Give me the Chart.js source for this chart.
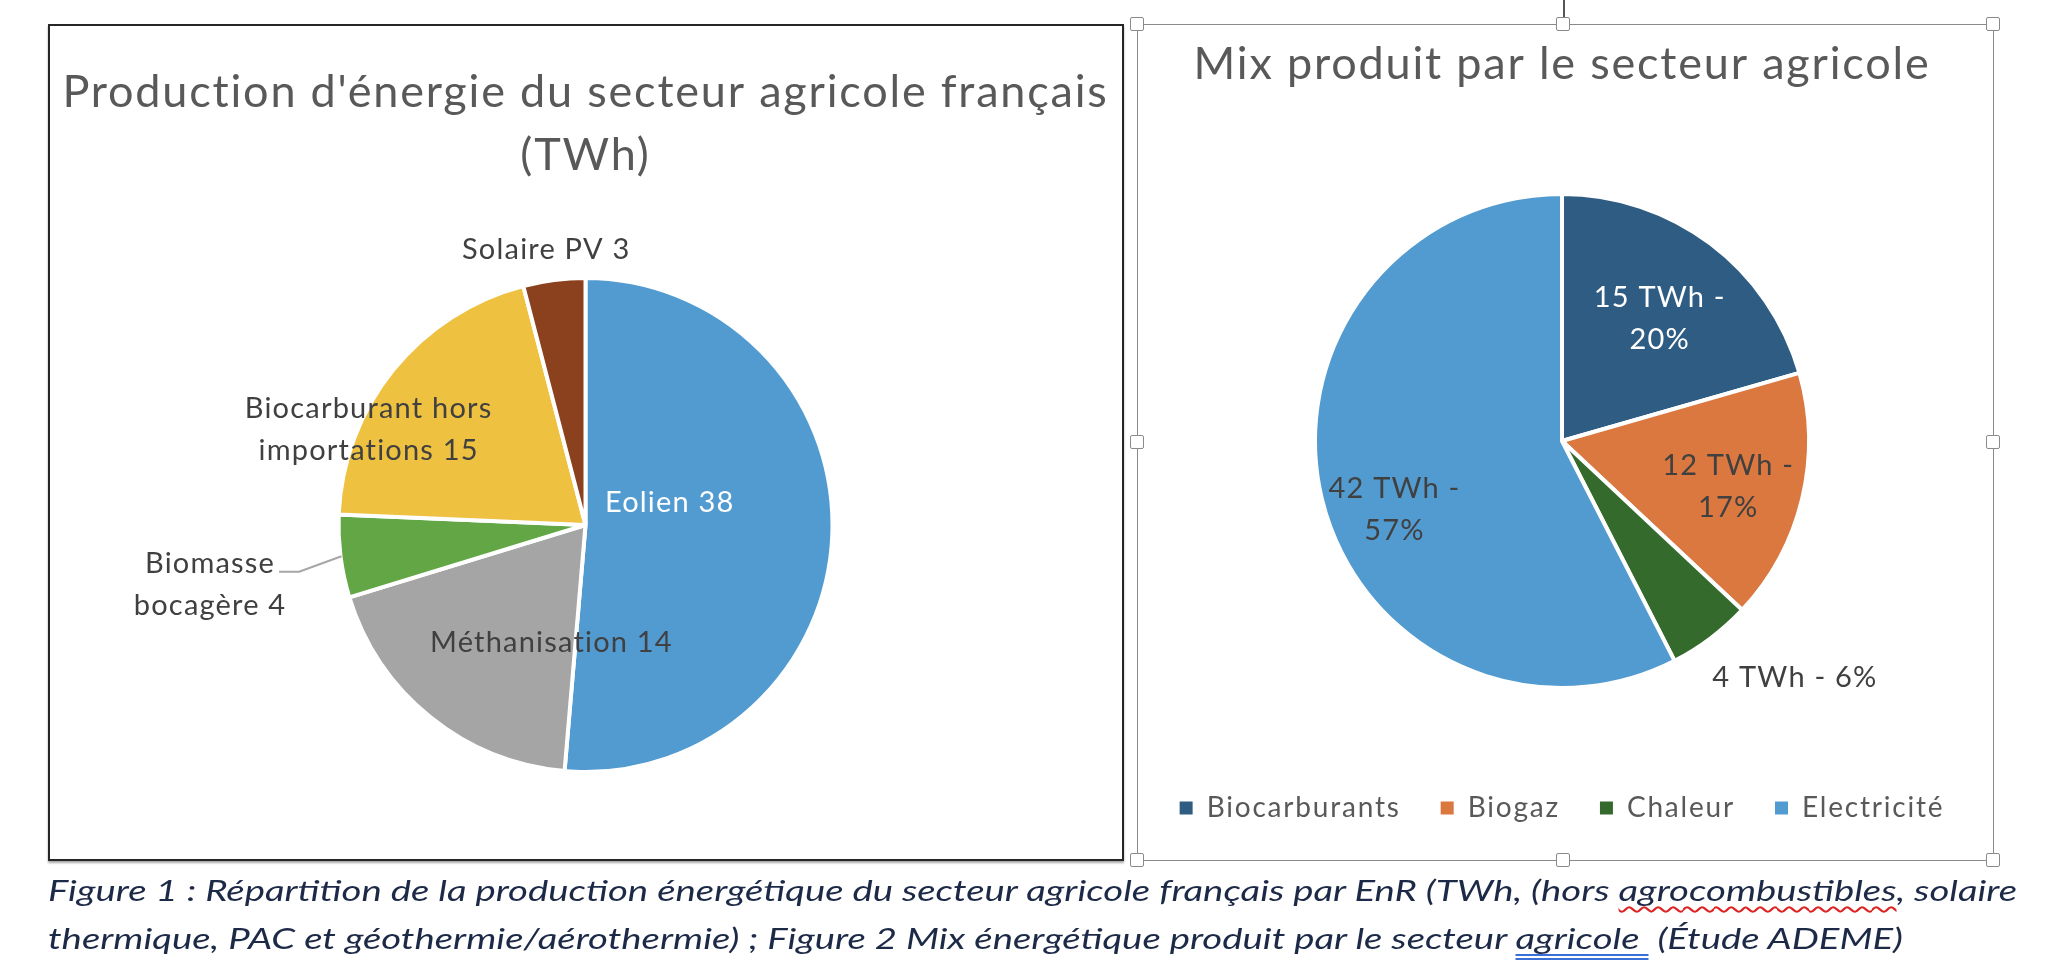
<!DOCTYPE html>
<html>
<head>
<meta charset="utf-8">
<script src="https://cdn.jsdelivr.net/npm/chart.js"></script>
<style>
  body { margin: 0; background: #fff; width: 2052px; height: 980px; position: relative; overflow: hidden; font-family: Lato, sans-serif; }
  .frame { position: absolute; box-sizing: border-box; }
  #leftFrame { left: 48px; top: 24px; width: 1076px; height: 837px; border: 2px solid #262626; box-shadow: 0 2px 2px rgba(0,0,0,.35); }
  #rightFrame { left: 1137px; top: 24px; width: 857px; height: 837px; border: 1.5px solid #8a8a8a; }
  canvas { position: absolute; }
  #leftChart { left: 50px; top: 26px; }
  #rightChart { left: 1139px; top: 26px; }
  .handle { position: absolute; width: 14px; height: 14px; background: #fff; border: 1.5px solid #8a8a8a; border-radius: 2px; box-sizing: border-box; transform: translate(-50%, -50%); }
  #rotLine { position: absolute; left: 1563px; top: 0; width: 1.5px; height: 24px; background: #555; }
  #caption { position: absolute; left: 48px; top: 866px; font-family: Lato, sans-serif; font-style: italic; font-size: 29px; line-height: 48px; color: #1d2a47; white-space: nowrap; transform-origin: 0 0; }
  .spell { text-decoration: underline wavy #d22; text-decoration-thickness: 1.5px; text-underline-offset: 5px; }
  .gram { text-decoration: underline double #3a6fd8; text-underline-offset: 5px; }
</style>
</head>
<body>
<div class="frame" id="leftFrame"></div>
<div class="frame" id="rightFrame"></div>
<div id="rotLine"></div>
<canvas id="leftChart" width="1071" height="832"></canvas>
<canvas id="rightChart" width="854" height="834"></canvas>
<div id="handles"></div>
<div id="caption"><span id="cap1">Figure 1 : Répartition de la production énergétique du secteur agricole français par EnR (TWh, (hors <span class="spell">agrocombustibles</span>, solaire</span><br>thermique, PAC et géothermie/aérothermie) ; Figure 2 Mix énergétique produit par le secteur <span class="gram">agricole&nbsp;</span> (Étude ADEME)</div>
<script>
// left chart: production by source (TWh)
const leftCategories = ['Eolien', 'Méthanisation', 'Biomasse bocagère', 'Biocarburant hors importations', 'Solaire PV'];
const leftValues = [38, 14, 4, 15, 3];
const leftColors = ['#529BD0', '#A5A5A5', '#63A645', '#EEC140', '#8B411E'];
const leftTitle = ["Production d'énergie du secteur agricole français", '(TWh)'];

// right chart: mix produced
const rightCategories = ['Biocarburants', 'Biogaz', 'Chaleur', 'Electricité'];
const rightValues = [15, 12, 4, 42];
const rightShares = [20, 17, 6, 57];
const rightColors = ['#2E5C82', '#DA7840', '#356A2D', '#529BD0'];
const rightTitle = 'Mix produit par le secteur agricole';

// where each data label sits, relative to pie centre, in units of radius
const leftPlacement = [
  {dx: 0.341, dy: -0.089, color: '#ffffff'},
  {dx: -0.138, dy: 0.476, color: '#404040'},
  {dx: -1.520, dy: 0.242, color: '#404040', wrap: 190, leader: true},
  {dx: -0.878, dy: -0.388, color: '#404040', wrap: 270},
  {dx: -0.159, dy: -1.114, color: '#404040'}
];
const rightPlacement = [
  {dx: 0.396, dy: -0.494, color: '#ffffff', wrap: 160},
  {dx: 0.673, dy: 0.186, color: '#404040', wrap: 160},
  {dx: 0.943, dy: 0.959, color: '#404040'},
  {dx: -0.678, dy: 0.278, color: '#404040', wrap: 160}
];

const handlePos = [[1137,24],[1563,24],[1993,24],[1137,442],[1993,442],[1137,860],[1563,860],[1993,860]];
handlePos.forEach(([x, y]) => {
  const d = document.createElement('div');
  d.className = 'handle';
  d.style.left = x + 'px';
  d.style.top = y + 'px';
  document.getElementById('handles').appendChild(d);
});

function wrapText(ctx, text, maxW) {
  if (!maxW) return [text];
  const lines = [];
  let cur = '';
  text.split(' ').forEach(w => {
    const t = cur ? cur + ' ' + w : w;
    if (cur && ctx.measureText(t).width > maxW) { lines.push(cur); cur = w; }
    else cur = t;
  });
  lines.push(cur);
  return lines;
}

function labelPlugin(texts, place) {
  return {
    id: 'pieLabels',
    afterDatasetsDraw(chart) {
      const ctx = chart.ctx;
      const arcs = chart.getDatasetMeta(0).data;
      ctx.save();
      ctx.font = '29px Lato';
      ctx.letterSpacing = '1.2px';
      ctx.textAlign = 'center';
      ctx.textBaseline = 'middle';
      arcs.forEach((arc, i) => {
        const p = place[i];
        const {x, y, outerRadius, startAngle, endAngle} = arc.getProps(['x', 'y', 'outerRadius', 'startAngle', 'endAngle'], true);
        const lx = x + p.dx * outerRadius;
        const ly = y + p.dy * outerRadius;
        const lines = wrapText(ctx, texts[i], p.wrap);
        const lh = 42;
        const y0 = ly - (lines.length - 1) * lh / 2;
        ctx.fillStyle = p.color;
        lines.forEach((t, k) => ctx.fillText(t, lx, y0 + k * lh));
        if (p.leader) {
          const sx = lx + ctx.measureText(lines[0]).width / 2 + 4;
          const sy = y0 + 8;
          const a = (startAngle + endAngle) / 2;
          ctx.strokeStyle = '#A6A6A6';
          ctx.lineWidth = 2;
          ctx.beginPath();
          ctx.moveTo(sx, sy);
          ctx.lineTo(sx + 20, sy);
          ctx.lineTo(x + Math.cos(a) * (outerRadius - 1), y + Math.sin(a) * (outerRadius - 1));
          ctx.stroke();
        }
      });
      ctx.restore();
    }
  };
}

// Office text is set a little looser than Lato
const spacing = {
  id: 'spacing',
  beforeUpdate(chart) { chart.ctx.letterSpacing = '1.8px'; },
  beforeDraw(chart) { chart.ctx.letterSpacing = '1.8px'; }
};

function draw() {
  Chart.defaults.font.family = 'Lato';

  new Chart(document.getElementById('leftChart'), {
    type: 'pie',
    data: {
      labels: leftCategories,
      datasets: [{ data: leftValues, backgroundColor: leftColors, borderColor: '#ffffff', borderWidth: 4 }]
    },
    options: {
      responsive: false,
      animation: false,
      events: [],
      radius: 247,
      layout: { padding: { top: 0, bottom: 87, left: 0, right: 0 } },
      plugins: {
        legend: { display: false },
        tooltip: { enabled: false },
        title: {
          display: true,
          text: leftTitle,
          color: '#595959',
          font: { size: 45, weight: 'normal', lineHeight: 63 / 45 },
          padding: { top: 34.5, bottom: 92.5 }
        }
      }
    },
    plugins: [spacing, labelPlugin(leftCategories.map((c, i) => c + ' ' + leftValues[i]), leftPlacement)]
  });

  const baseLabels = Chart.overrides.doughnut.plugins.legend.labels.generateLabels;
  new Chart(document.getElementById('rightChart'), {
    type: 'pie',
    data: {
      labels: rightCategories,
      datasets: [{ data: rightValues, backgroundColor: rightColors, borderColor: '#ffffff', borderWidth: 4 }]
    },
    options: {
      responsive: false,
      animation: false,
      events: [],
      radius: 247,
      layout: { padding: { top: 0, bottom: 28, left: 0, right: 8 } },
      plugins: {
        tooltip: { enabled: false },
        legend: {
          position: 'bottom',
          labels: {
            boxWidth: 13,
            boxHeight: 13,
            padding: 40,
            color: '#595959',
            font: { size: 28 },
            generateLabels: chart => baseLabels(chart).map(l => Object.assign(l, { lineWidth: 0 }))
          }
        },
        title: {
          display: true,
          text: rightTitle,
          color: '#595959',
          font: { size: 45, weight: 'normal', lineHeight: 63 / 45 },
          padding: { top: 6.5, bottom: 32.5 }
        }
      }
    },
    plugins: [spacing, labelPlugin(rightValues.map((v, i) => v + ' TWh - ' + rightShares[i] + '%'), rightPlacement)]
  });

  // the caption is set wider than Lato italic: stretch line 1 to its width in the figure
  const cap = document.getElementById('caption');
  const w = document.getElementById('cap1').getBoundingClientRect().width;
  cap.style.transform = 'scaleX(' + (1969 / w).toFixed(4) + ')';
}

Promise.all([
  document.fonts.load('28px Lato'),
  document.fonts.load('italic 29px Lato')
]).then(draw, draw);
</script>
</body>
</html>
